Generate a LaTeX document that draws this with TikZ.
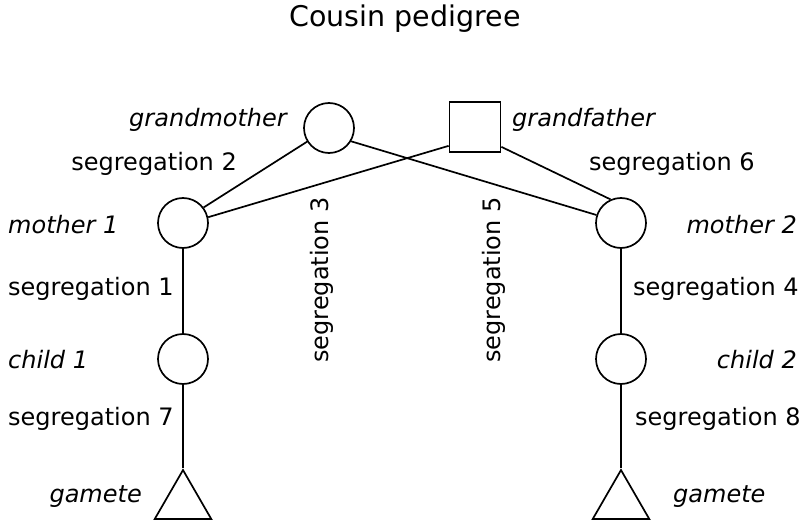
\documentclass[tikz,border=0pt]{standalone}
\usepackage{fontspec}
\setmainfont{DejaVu Sans}
\usetikzlibrary{shapes.geometric}
\begin{document}
\begin{tikzpicture}[x=1pt,y=-1pt,
  lw/.style={line width=1.7pt},
  person/.style={circle,draw,lw,inner sep=0pt,minimum size=50pt},
  male/.style={rectangle,draw,lw,inner sep=0pt,minimum width=51pt,minimum height=50pt},
  gam/.style={regular polygon,regular polygon sides=3,draw,lw,inner sep=0pt,minimum size=65.3pt},
  lab/.style={inner sep=0pt,font=\fontsize{24}{28}\selectfont},
  ilab/.style={lab,font=\fontsize{24}{28}\selectfont\itshape},
  conn/.style={lw}]
\useasboundingbox (0,0) rectangle (806,524);
\node[inner sep=0pt,anchor=base,font=\fontsize{28.5}{32}\selectfont] (title) at (405,27) {Cousin pedigree};
% nodes
\node[person] (gm) at (329,128) {};
\node[male] (gf) at (475,127) {};
\node[person] (m1) at (183,223) {};
\node[person] (m2) at (621,223) {};
\node[person] (c1) at (183,359) {};
\node[person] (c2) at (621,359) {};
\node[gam] (g1) at (183,502.7) {};
\node[gam] (g2) at (621,502.7) {};
% connectors
\draw[conn] (gm.212) -- (m1.37);
\draw[conn] (gm.329) -- (m2.162);
\draw[conn] ([yshift=7pt]gf.south west) -- (m1.13.5);
\draw[conn] ([yshift=6pt]gf.south east) -- (m2.114);
\draw[conn] (m1) -- (c1);
\draw[conn] (m2) -- (c2);
\draw[conn] (c1.south) -- (g1.corner 1);
\draw[conn] (c2.south) -- (g2.corner 1);
% labels
\node[ilab,anchor=base east] (lgm) at (287,127) {grandmother};
\node[ilab,anchor=base west] (lgf) at (512,127) {grandfather};
\node[lab,anchor=base east] (s2) at (237,171) {segregation 2};
\node[lab,anchor=base west] (s6) at (589,171) {segregation 6};
\node[ilab,anchor=base west] (lm1) at (8,233) {mother 1};
\node[ilab,anchor=base east] (lm2) at (797,233) {mother 2};
\node[lab,anchor=base west] (s1) at (8,295) {segregation 1};
\node[lab,anchor=base west] (s4) at (633,295) {segregation 4};
\node[ilab,anchor=base west] (lc1) at (8,368) {child 1};
\node[ilab,anchor=base east] (lc2) at (797,368) {child 2};
\node[lab,anchor=base west] (s7) at (8,425) {segregation 7};
\node[lab,anchor=base west] (s8) at (635,425) {segregation 8};
\node[ilab,anchor=base east] (lg1) at (142,502) {gamete};
\node[ilab,anchor=base west] (lg2) at (673,502) {gamete};
\node[lab,rotate=90] (s3) at (322,280) {segregation 3};
\node[lab,rotate=90] (s5) at (494,280) {segregation 5};
\end{tikzpicture}
\end{document}
